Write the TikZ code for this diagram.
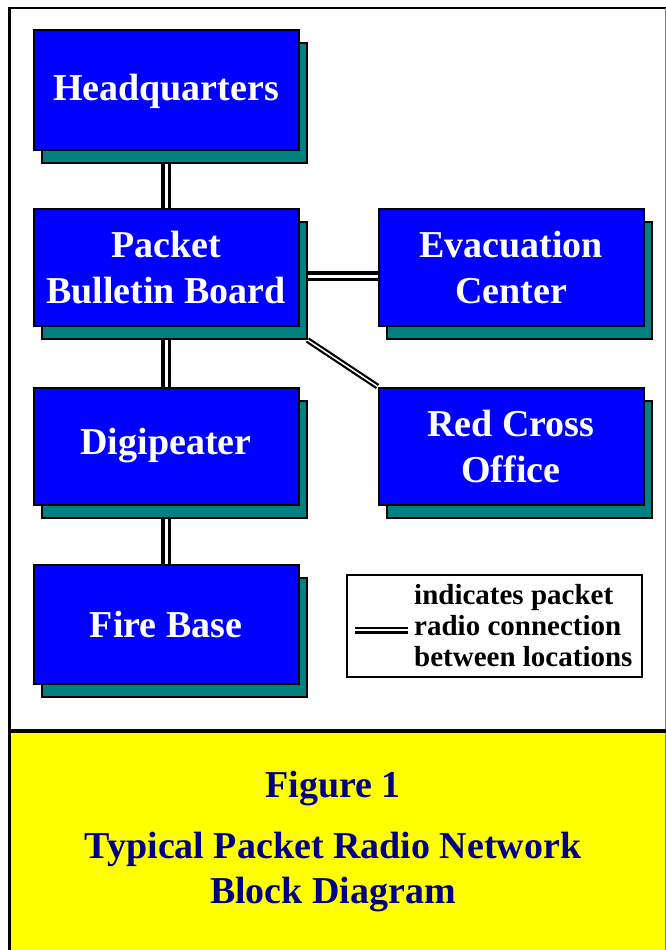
\documentclass[tikz,border=0pt]{standalone}
\usepackage{fontspec}
\setmainfont{Liberation Serif}
\usetikzlibrary{calc}
\definecolor{BoxBlue}{HTML}{0000FF}
\definecolor{ShdTeal}{HTML}{008080}
\definecolor{TitleNavy}{HTML}{000080}
\definecolor{PanelYellow}{HTML}{FFFF00}

\begin{document}
\begin{tikzpicture}[x=1pt, y=-1pt]

    % Page size
    \useasboundingbox (0,0) rectangle (666,950);

    % Bold serif text
    \bfseries

    % Location boxes
    \tikzset{Loc/.style={draw=black, line width=2pt, fill=BoxBlue, text=white, minimum width=265pt, minimum height=117pt, inner sep=0pt, align=center, font=\fontsize{38}{46}\selectfont\bfseries}}
    \tikzset{Shd/.style={draw=black, line width=2pt, fill=ShdTeal, minimum width=265pt, minimum height=117pt, inner sep=0pt}}

    % Radio links
    \tikzset{Link/.style={draw=black, line width=3.5pt, double=white, double distance=3pt}}
    \tikzset{thinLink/.style={Link, line width=2.2pt, double distance=1.5pt}}
    \tikzset{keyLink/.style={Link, line width=2.5pt, double distance=2pt}}

    % Caption text
    \tikzset{Cap/.style={anchor=base, text=TitleNavy, inner sep=0pt, font=\fontsize{38}{45}\selectfont\bfseries}}

    % Frame and caption panel
    \fill[PanelYellow] (11,733) rectangle (665,950);
    \draw[line width=3pt] (9.5,7) -- (9.5,950);
    \draw[line width=2pt] (8,8) -- (666,8);
    \draw[gray, line width=1pt] (665.5,8) -- (665.5,950);
    \draw[line width=4pt] (8,731) -- (666,731);

    % Shadows
    \node (hqs) [Shd, minimum height=120pt] at (174, 103) {};
    \node (pbbs) [Shd] at (174, 280.5) {};
    \node (digis) [Shd] at (174, 459) {};
    \node (fires) [Shd, minimum height=119pt] at (174, 637.5) {};
    \node (evacs) [Shd] at (519, 280.5) {};
    \node (rcs) [Shd] at (519, 459) {};

    % Locations
    \node (hq) [Loc, minimum height=120pt, text height=26pt, text depth=6pt] at (166, 90) {Headquarters};
    	\node (pbb) [Loc] at (166, 267.5) {Packet\\Bulletin Board};
    		\node (evac) [Loc] at (511, 267.5) {Evacuation\\Center};
    		\node (rc) [Loc] at (511, 446) {Red Cross\\Office};
    		\node (digi) [Loc] at (166, 446) {Digipeater};
    			\node (fire) [Loc, minimum height=119pt] at (166, 624.5) {Fire Base};

    % Links
    \draw[Link] (hqs.south -| hq) -- (pbb);
    	\draw[Link] (pbbs.south -| pbb) -- (digi);
    		\draw[Link] (digis.south -| digi) -- (fire);
    	\draw[Link] ([yshift=4.5pt]pbbs.east) -- ([yshift=4.5pt]pbbs.east -| evac.west);
    	\draw[thinLink] (pbbs.south east) -- (rc.north west);

    % Legend
    \node (key) [draw=black, line width=1.2pt, minimum width=295pt, minimum height=102pt, inner sep=0pt] at (494.5, 626) {};
    \coordinate (keyA) at (355, 630);
    \coordinate (keyB) at (408, 630);
    \draw[keyLink] (keyA) -- (keyB);
    \node (keyT) [anchor=west, align=left, inner sep=0pt, font=\fontsize{29}{31}\selectfont\bfseries] at (414, 626) {indicates packet\\radio connection\\between locations};

    % Caption
    \node (fig) [Cap] at (333, 797) {Figure 1};
    \node (typ) [Cap] at (333, 858) {Typical Packet Radio Network};
    \node (blk) [Cap] at (333, 903) {Block Diagram};

\end{tikzpicture}
\end{document}
